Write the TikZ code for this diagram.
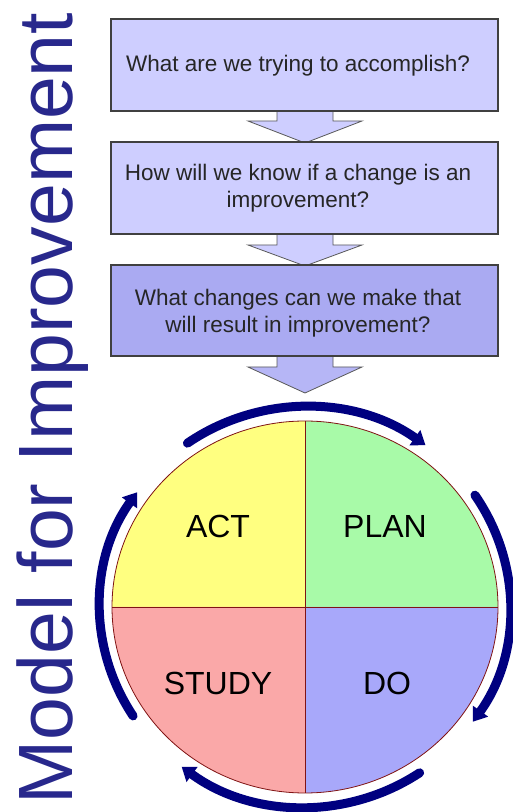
\documentclass[tikz,border=0pt]{standalone}
\usepackage{fontspec}
\setmainfont{Liberation Sans}
\usetikzlibrary{arrows.meta,calc}
\definecolor{qlight}{RGB}{206,206,255}
\definecolor{qdark}{RGB}{170,170,242}
\definecolor{qarrow}{RGB}{182,182,246}
\definecolor{actc}{RGB}{255,255,128}
\definecolor{planc}{RGB}{168,250,168}
\definecolor{studyc}{RGB}{250,168,168}
\definecolor{doc}{RGB}{168,168,250}
\definecolor{ringc}{RGB}{128,20,20}
\definecolor{navyc}{RGB}{0,0,128}
\definecolor{titlec}{RGB}{40,40,140}
\begin{document}
\begin{tikzpicture}[x=1pt,y=1pt,
  qbox/.style={draw=black!75, line width=1.1pt, minimum width=387pt, inner sep=0pt},
  qtext/.style={font=\fontsize{22.5}{26.5}\selectfont, align=center, inner sep=0pt, text=black!85},
  barrow/.style={draw=black!65, line width=0.8pt, line join=miter},
  quad/.style={font=\fontsize{32}{36}\selectfont, inner sep=0pt, text=black},
  cyc/.style={draw=navyc, line width=9pt, line cap=round, -{Triangle[length=13pt,width=18pt]}},
  ring/.style={draw=ringc, line width=0.8pt}]
\useasboundingbox (0,0) rectangle (513,812);
\fill[white] (0,0) rectangle (513,812);

% title
\node[rotate=90, anchor=base, inner sep=0pt, text=titlec, font=\fontsize{77}{80}\selectfont] (title) at (72,403.5) {Model for Improvement};

% question boxes (positions)
\coordinate (q1c) at (304.5,747);
\coordinate (q2c) at (304.5,624);
\coordinate (q3c) at (304.5,501.5);

% block arrows (drawn first, boxes on top)
\filldraw[barrow, fill=qlight] (277,701) -- (277,691) -- (248,691) -- (305,669) -- (362,691) -- (333,691) -- (333,701);
\filldraw[barrow, fill=qlight] (277,578) -- (277,567) -- (248,567) -- (305,546) -- (362,567) -- (333,567) -- (333,578);
\filldraw[barrow, fill=qarrow] (277,456) -- (277,445) -- (248,445) -- (305,419) -- (362,445) -- (333,445) -- (333,456);

\node[qbox, fill=qlight, minimum height=92pt] (q1) at (q1c) {};
\node[qbox, fill=qlight, minimum height=92pt] (q2) at (q2c) {};
\node[qbox, fill=qdark, minimum height=91pt] (q3) at (q3c) {};

\node[qtext] (q1t) at ([xshift=-6.5pt,yshift=-1pt]q1.center) {What are we trying to accomplish?};
\node[qtext] (q2t) at ([xshift=-6.5pt,yshift=0pt]q2.center) {How will we know if a change is an\\improvement?};
\node[qtext] (q3t) at ([xshift=-6.5pt,yshift=-2.5pt]q3.center) {What changes can we make that\\will result in improvement?};

% PDSA circle
\coordinate (c) at (305,205);
\fill[actc] (c) -- ++(-193,0) arc[start angle=180, end angle=90, x radius=193, y radius=186] -- cycle;
\fill[planc] (c) -- ++(0,186) arc[start angle=90, end angle=0, x radius=193, y radius=186] -- cycle;
\fill[doc] (c) -- ++(193,0) arc[start angle=0, end angle=-90, x radius=193, y radius=186] -- cycle;
\fill[studyc] (c) -- ++(0,-186) arc[start angle=270, end angle=180, x radius=193, y radius=186] -- cycle;
\draw[ring] (c) ellipse[x radius=193, y radius=186];
\draw[ring] ($(c)+(-193,0)$) -- ($(c)+(193,0)$);
\draw[ring] ($(c)+(0,-186)$) -- ($(c)+(0,186)$);

\node[quad] (act) at (218,286) {ACT};
\node[quad] (plan) at (385,286) {PLAN};
\node[quad] (study) at (218,129) {STUDY};
\node[quad] (do) at (387,129) {DO};

% cycle arrows
\draw[cyc] (c) ++(125:205 and 200) arc[start angle=125, end angle=54, x radius=205, y radius=200];
\draw[cyc] (c) ++(34:205 and 200) arc[start angle=34, end angle=-35, x radius=205, y radius=200];
\draw[cyc] (c) ++(-56:205 and 200) arc[start angle=-56, end angle=-127, x radius=205, y radius=200];
\draw[cyc] (c) ++(-147:205 and 200) arc[start angle=-147, end angle=-215, x radius=205, y radius=200];
\end{tikzpicture}
\end{document}
